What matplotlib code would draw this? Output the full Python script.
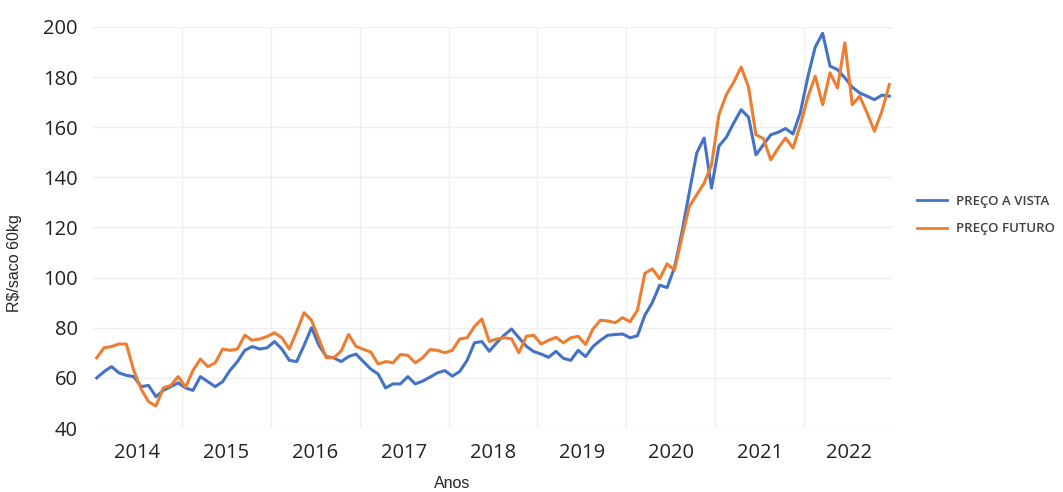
import matplotlib
matplotlib.use("Agg")
import matplotlib.pyplot as plt
import numpy as np

years = ["2014", "2015", "2016", "2017", "2018", "2019", "2020", "2021", "2022"]

preco_a_vista = [
    60, 62.5, 64.5, 62, 61, 60.5, 56.5, 57, 52.5, 55, 56.5, 58,
    56, 55, 60.5, 58.5, 56.5, 58.5, 63, 66.5, 71, 72.5, 71.5, 72,
    74.5, 71.5, 67, 66.5, 73, 80, 73, 68.5, 68, 66.5, 68.5, 69.5,
    66.5, 63.5, 61.5, 56, 57.6, 57.6, 60.5, 57.6, 58.7, 60.3, 62, 62.9,
    60.7, 62.5, 67, 74, 74.5, 70.6, 74, 77, 79.5, 76, 72.6, 70.5,
    69.5, 68.2, 70.6, 67.8, 67, 71, 68.5, 72.5, 75, 77, 77.3, 77.5,
    76, 76.8, 85, 90, 97, 96, 104, 118, 134, 149.7, 155.7, 135.7,
    152.5, 156, 161.7, 167, 164, 149, 153, 157, 158, 159.5, 157.3, 166,
    180, 192, 197.5, 184.4, 183, 179.7, 176, 173.7, 172.4, 171, 172.8, 172.4,
]

preco_futuro = [
    68, 72, 72.5, 73.5, 73.5, 63, 55.5, 50.5, 48.8, 56, 57, 60.5,
    56.3, 63, 67.5, 64.5, 66, 71.5, 71, 71.5, 77, 75, 75.5, 76.5,
    78, 76, 71.5, 78.5, 86, 83, 75.5, 68, 68, 70.7, 77.3, 72.6,
    71.4, 70.3, 65.5, 66.5, 66, 69.3, 69, 66, 68, 71.3, 71, 70,
    71, 75.5, 76, 80.5, 83.5, 74.5, 75.5, 76, 75.6, 70, 76.6, 77,
    73.5, 75, 76.2, 74, 76, 76.6, 73.3, 79.5, 83, 82.7, 82, 84,
    82.4, 87, 101.7, 103.5, 99.5, 105.5, 103, 116, 128.4, 133, 137.7, 145,
    165, 173, 178, 184, 176, 157, 155.5, 147, 151.7, 155.7, 151.7, 161,
    172, 180.4, 169, 181.7, 175.7, 193.7, 169, 172.4, 165.7, 158.4, 166.4, 177,
]

series_labels = ["PREÇO A VISTA", "PREÇO FUTURO"]
colors = ["#4472C4", "#ED7D31"]

fig = plt.figure(figsize=(10.63, 4.92), dpi=100)
ax = fig.add_axes([93 / 1063, 1 - 428 / 492, 800 / 1063, 401 / 492])

x = np.arange(len(preco_a_vista))
ax.plot(x, preco_a_vista, color=colors[0], lw=2.2, label=series_labels[0], solid_joinstyle="round")
ax.plot(x, preco_futuro, color=colors[1], lw=2.2, label=series_labels[1], solid_joinstyle="round")

n = len(years)
ax.set_xlim(-0.5, n * 12 - 0.5)
ax.set_ylim(40, 200)
ax.set_yticks(np.arange(40, 201, 20))
ax.set_xticks([i * 12 + 5.5 for i in range(n)])
ax.set_xticklabels(years)
ax.set_xticks([i * 12 - 0.5 for i in range(1, n)], minor=True)

ax.grid(axis="y", which="major", color="#efefef", lw=1)
ax.grid(axis="x", which="minor", color="#efefef", lw=1)
ax.set_axisbelow(True)
for s in ax.spines.values():
    s.set_visible(False)
ax.tick_params(which="both", length=0)
ax.tick_params(axis="y", labelsize=14.5, labelcolor="#222222", pad=11)
ax.tick_params(axis="x", labelsize=14.5, labelcolor="#222222", pad=11)
for lab in ax.get_xticklabels() + ax.get_yticklabels():
    lab.set_family("Open Sans")

fig.text(15 / 1063, 1 - 263 / 492, "R$/saco 60kg", rotation=90, ha="center", va="center",
         fontsize=11.5, color="#262626", family="Liberation Sans")
fig.text(452 / 1063, 1 - 484 / 492, "Anos", ha="center", va="center",
         fontsize=11.5, color="#262626", family="Liberation Sans")

leg = fig.legend(loc="center left", bbox_to_anchor=(905 / 1063, 1 - 215 / 492), frameon=False,
                 handlelength=2.3, handletextpad=0.7, labelspacing=1.1,
                 prop={"family": "Open Sans", "size": 9.5, "weight": "semibold"})
for t in leg.get_texts():
    t.set_color("#404040")
for h in leg.get_lines():
    h.set_linewidth(2.0)

fig.savefig("out.png", dpi=100)
